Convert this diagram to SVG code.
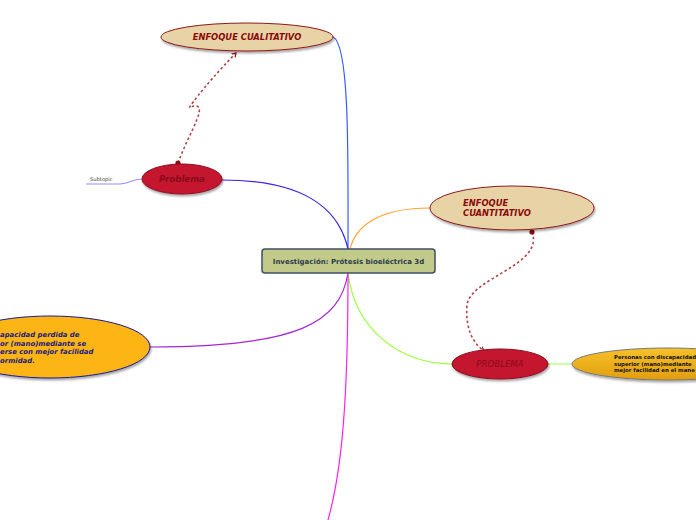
<svg xmlns="http://www.w3.org/2000/svg" width="696" height="520" viewBox="0 0 696 520">
<style>
.c{fill:none;stroke-width:1.2}
.d{fill:none;stroke:#b04444;stroke-width:1.6;stroke-dasharray:2.5,2.5}
.tan{fill:#e8d3a6;stroke:#8b1a1a;stroke-width:1}
.red{fill:#c4122f;stroke:#8a0f1f;stroke-width:1}
.t{font-family:"DejaVu Sans",Verdana,sans-serif;font-weight:bold;font-style:italic}
</style>
<defs>
<filter id="sh" x="-20%" y="-30%" width="140%" height="160%">
<feDropShadow dx="1" dy="2" stdDeviation="1.2" flood-color="#000" flood-opacity="0.35"/>
</filter>
<linearGradient id="og" x1="0" y1="0" x2="0" y2="1">
<stop offset="0" stop-color="#f7c12a"/><stop offset="1" stop-color="#e19e0e"/>
</linearGradient>
<marker id="ah" markerWidth="6" markerHeight="6" refX="4" refY="3" orient="auto" markerUnits="userSpaceOnUse">
<path d="M0,0.5 L4,3 L0,5.5" fill="none" stroke="#8b1a1a" stroke-width="1.2"/>
</marker>
<marker id="dot" markerWidth="6" markerHeight="6" refX="3" refY="3" markerUnits="userSpaceOnUse">
<circle cx="3" cy="3" r="2.6" fill="#8b0f0f"/>
</marker>
</defs>
<g id="connectors">
<path class="c" stroke="#3a5cff" d="M348,249 C348,160 350,45 333,37"/>
<path class="c" stroke="#3a22ee" d="M348,249 C338,205 300,180 222,180"/>
<path class="c" stroke="#ffa42a" d="M350,249 C356,225 380,208 430,208"/>
<path class="c" stroke="#a624d8" d="M348,273 C340,322 300,347 150,347"/>
<path class="c" stroke="#99ff33" d="M348,273 C355,330 400,364 453,364"/>
<path class="c" stroke="#ff22ee" stroke-width="1.6" d="M348,273 C348,400 342,470 328,520"/>
<path class="c" stroke="#aaff66" d="M548,364 L572,364"/>
<path class="c" stroke="#9d8cff" d="M142,179 C130,179 131,184 120,184 L86,184"/>
<path class="d" marker-start="url(#dot)" marker-end="url(#ah)" d="M178,163 C190,130 212,100 190,107 C186,112 200,90 236,53"/>
<path class="d" marker-start="url(#dot)" marker-end="url(#ah)" d="M532,232 C545,265 470,278 467,305 C465,330 474,344 484,351"/>
</g>
<g id="central">
<rect x="262" y="249" width="173" height="24" rx="3" fill="#c2ca8a" stroke="#3f5068" stroke-width="1.5"/>
<text x="348.5" y="264" text-anchor="middle" font-family="'DejaVu Sans',Verdana,sans-serif" font-weight="bold" font-size="7" fill="#2e3a4c">Investigación: Prótesis bioeléctrica 3d</text>
</g>
<g id="cualitativo">
<ellipse class="tan" filter="url(#sh)" cx="247" cy="37" rx="86" ry="14"/>
<text class="t" x="247" y="40" text-anchor="middle" font-size="8.4" fill="#8b0a0a">ENFOQUE CUALITATIVO</text>
</g>
<g id="problema1">
<ellipse class="red" filter="url(#sh)" cx="182" cy="179" rx="40" ry="15"/>
<text class="t" x="182" y="182" text-anchor="middle" font-size="8.6" fill="#8b0a1a">Problema</text>
</g>
<g id="subtopic">
<text x="90" y="181" font-family="'DejaVu Sans',Verdana,sans-serif" font-size="5.2" fill="#444">Subtopic</text>
</g>
<g id="cuantitativo">
<ellipse class="tan" filter="url(#sh)" cx="512" cy="208" rx="82" ry="22"/>
<text class="t" font-size="8.4" fill="#8b0a0a"><tspan x="463" y="206">ENFOQUE</tspan><tspan x="463" y="216">CUANTITATIVO</tspan></text>
</g>
<g id="leftnode">
<ellipse filter="url(#sh)" cx="50" cy="347" rx="100" ry="31" fill="#fdb515" stroke="#1a1a99" stroke-width="1"/>
<text class="t" font-size="6.9" fill="#1a1a80"><tspan x="0" y="337">apacidad perdida de</tspan><tspan x="0" y="345.5">or (mano)mediante se</tspan><tspan x="0" y="354">erse con mejor facilidad</tspan><tspan x="0" y="362.5">ormidad.</tspan></text>
</g>
<g id="problema2">
<ellipse class="red" filter="url(#sh)" cx="500" cy="364" rx="48" ry="15"/>
<text x="500" y="367" text-anchor="middle" font-family="'DejaVu Sans',Verdana,sans-serif" font-style="italic" font-size="8.6" fill="#8b0a1a">PROBLEMA</text>
</g>
<g id="rightnode">
<ellipse filter="url(#sh)" cx="668" cy="364" rx="96" ry="16" fill="url(#og)" stroke="#777" stroke-width="1"/>
<text font-family="'DejaVu Sans',Verdana,sans-serif" font-weight="bold" font-size="5.4" fill="#111"><tspan x="614" y="359">Personas con discapacidad</tspan><tspan x="614" y="365.5">superior (mano)mediante</tspan><tspan x="614" y="372">mejor facilidad en el mane</tspan></text>
</g>
</svg>
